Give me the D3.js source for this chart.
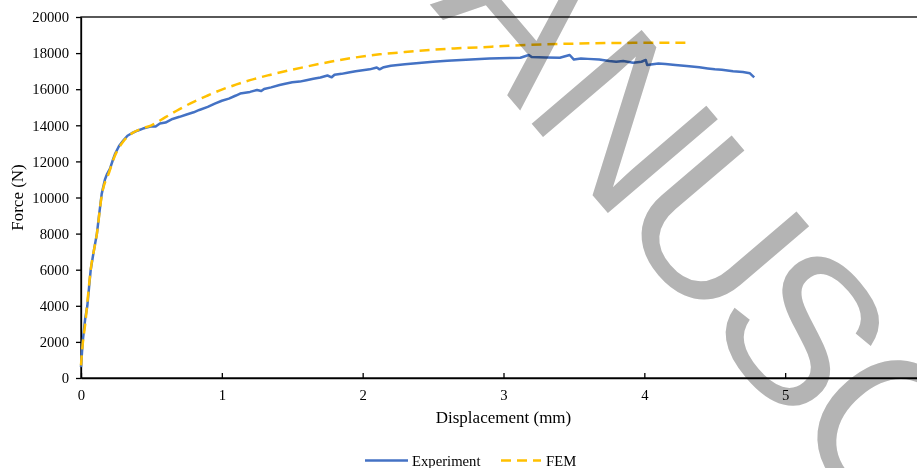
<!DOCTYPE html>
<html><head><meta charset="utf-8">
<script src="https://cdn.jsdelivr.net/npm/d3@7"></script>
<style>
html,body{margin:0;padding:0;background:#fff;}
svg{display:block;}
text{font-family:"Liberation Serif","Times New Roman",serif;fill:#000;}
</style></head>
<body><svg id="c" width="917" height="468"></svg>
<script>
// ---- data ----
const expX = [0,0.005,0.012,0.02,0.03,0.045,0.057,0.069,0.09,0.113,0.128,0.147,0.17,0.185,0.206,0.225,0.241,0.27,0.3,0.33,0.36,0.4,0.44,0.5,0.53,0.56,0.6,0.65,0.7,0.75,0.8,0.84,0.9,0.95,1.0,1.05,1.1,1.13,1.2,1.25,1.28,1.3,1.35,1.41,1.45,1.5,1.553,1.6,1.65,1.7,1.75,1.78,1.8,1.85,1.9,1.95,2.0,2.05,2.1,2.12,2.15,2.2,2.3,2.4,2.5,2.6,2.7,2.8,2.9,2.97,3.05,3.12,3.18,3.2,3.3,3.4,3.47,3.5,3.55,3.6,3.68,3.75,3.8,3.85,3.92,3.98,4.01,4.02,4.1,4.15,4.22,4.3,4.39,4.45,4.5,4.55,4.63,4.7,4.75,4.78];
const expF = [600,1200,2000,2600,3300,4000,5000,6000,7000,8000,9000,10200,11000,11300,11600,12050,12400,12850,13150,13420,13560,13700,13820,13950,13930,14100,14150,14350,14470,14600,14720,14850,15020,15200,15360,15480,15650,15760,15850,15960,15900,16010,16100,16230,16300,16380,16420,16500,16580,16650,16760,16660,16800,16850,16930,17000,17050,17100,17200,17100,17220,17300,17380,17450,17525,17580,17620,17660,17700,17710,17730,17740,17895,17780,17760,17740,17895,17640,17700,17680,17650,17560,17520,17560,17470,17520,17620,17340,17430,17400,17340,17280,17210,17150,17100,17080,17000,16950,16880,16660];
const femX = [0,0.01,0.03,0.069,0.113,0.147,0.2,0.24,0.3,0.36,0.44,0.5,0.6,0.7,0.8,0.9,1.0,1.1,1.2,1.34,1.48,1.6,1.77,1.9,2.12,2.3,2.475,2.65,2.83,3.0,3.2,3.54,3.8,4.0,4.25,4.3];
const femF = [700,1700,3000,6000,8000,10100,11400,12300,13100,13550,13830,14000,14450,14900,15300,15650,15980,16250,16500,16790,17050,17250,17520,17700,17930,18060,18170,18260,18320,18390,18460,18530,18560,18570,18580,18580];
const xTickValues = [0,1,2,3,4,5,6];
const yTickValues = [0,2000,4000,6000,8000,10000,12000,14000,16000,18000,20000];
const seriesNames = ["Experiment","FEM"];
const seriesColors = ["#4472C4","#FFC000"];
const xTitle = "Displacement (mm)";
const yTitle = "Force (N)";
const watermarkA = "ACCEPTED MA";
const watermarkB = "NUSCRIPT";

// ---- chart ----
const svg = d3.select("#c");
const L = 81, T = 17, R = 926, B = 378;
const x = d3.scaleLinear().domain([0,6]).range([L,R]);
const y = d3.scaleLinear().domain([0,20000]).range([B,T]);

const expData = expX.map((v,i)=>[v,expF[i]]);
const femData = femX.map((v,i)=>[v,femF[i]]);

// frame
svg.append("rect").attr("x",L).attr("y",T).attr("width",R-L).attr("height",B-T)
  .attr("fill","none").attr("stroke","#000").attr("stroke-width",1.3);

// axes
const ya = svg.append("g").attr("transform",`translate(${L},0)`)
  .call(d3.axisLeft(y).tickValues(yTickValues).tickSizeInner(5).tickSizeOuter(0).tickPadding(7).tickFormat(d3.format("d")));
const xa = svg.append("g").attr("transform",`translate(0,${B})`)
  .call(d3.axisBottom(x).tickValues(xTickValues).tickSizeInner(-5).tickSizeOuter(0).tickPadding(12).tickFormat(d3.format("d")));
[ya,xa].forEach(a=>{
  a.select(".domain").attr("stroke","#000").attr("stroke-width",1.3);
  a.selectAll(".tick line").attr("stroke","#000").attr("stroke-width",1.3);
  a.selectAll(".tick text").attr("font-family","Liberation Serif").attr("font-size",14.7).attr("fill","#000");
});

// lines
svg.append("path").datum(expData).attr("d",d3.line().x(d=>x(d[0])).y(d=>y(d[1])).curve(d3.curveLinear))
  .attr("fill","none").attr("stroke",seriesColors[0]).attr("stroke-width",2.5).attr("stroke-linejoin","round");
svg.append("path").datum(femData).attr("d",d3.line().x(d=>x(d[0])).y(d=>y(d[1])).curve(d3.curveMonotoneX))
  .attr("fill","none").attr("stroke",seriesColors[1]).attr("stroke-width",2.5).attr("stroke-dasharray","10,6");

// titles
svg.append("text").attr("x",(L+R)/2).attr("y",423).attr("text-anchor","middle")
  .attr("font-size",17).text(xTitle);
svg.append("text").attr("transform",`translate(23,${(T+B)/2}) rotate(-90)`).attr("text-anchor","middle")
  .attr("font-size",17).text(yTitle);

// legend
const legX = [365, 501];
seriesNames.forEach((n,i)=>{
  const g = svg.append("g").attr("transform",`translate(${legX[i]},460.5)`);
  g.append("line").attr("x1",0).attr("x2",i===0?43:40).attr("y1",0).attr("y2",0)
    .attr("stroke",seriesColors[i]).attr("stroke-width",2.5)
    .attr("stroke-dasharray", i===1 ? "10,6" : null);
  g.append("text").attr("x",i===0?47:45).attr("y",5.5).attr("font-size",14.7).text(n);
});

// watermark
const wm = svg.append("g").attr("transform","translate(537,130) rotate(49.5)")
  .style("mix-blend-mode","multiply");
const wt = wm.append("text")
  .style("font-family","'Liberation Sans', Arial, sans-serif").style("font-kerning","none")
  .attr("font-size",210).style("fill","#b4b4b4");
wt.append("tspan").text(watermarkA);
wt.append("tspan").style("letter-spacing","-12px").text(watermarkB);
const off = wt.node().getSubStringLength(0, watermarkA.length) + 0.121*210;
wt.attr("x", -off);
</script></body></html>
